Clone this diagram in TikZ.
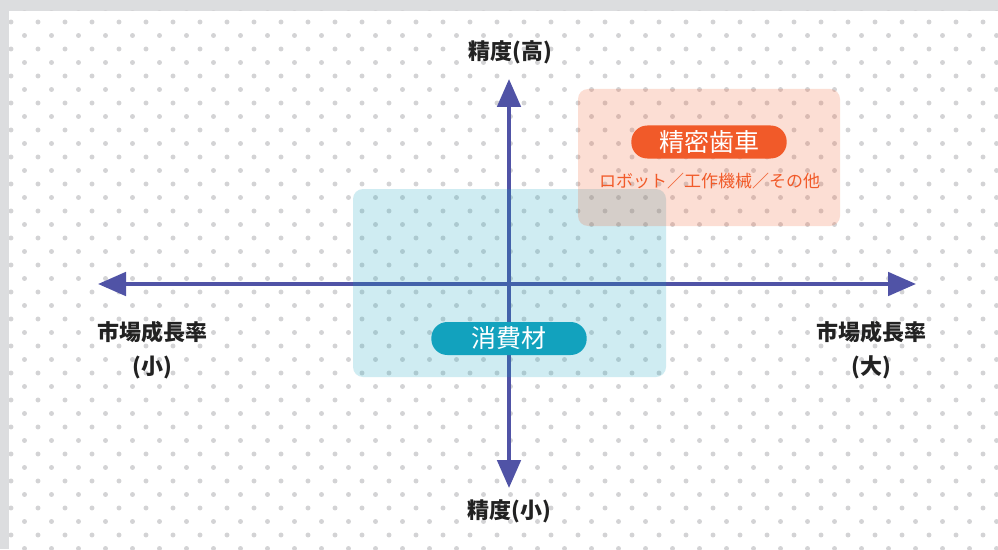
\documentclass[tikz,border=0pt]{standalone}
\usepackage{fontspec}
\setmainfont{Noto Sans CJK JP}
\usetikzlibrary{arrows.meta}
\definecolor{bggray}{HTML}{DCDDDF}
\definecolor{dotgray}{HTML}{D3D3D5}
\definecolor{axisblue}{HTML}{5053A6}
\definecolor{pillorange}{HTML}{F15A29}
\definecolor{pillblue}{HTML}{12A2BE}
\definecolor{labelblack}{HTML}{222222}
\tikzset{
  pill/.style={fill=#1, rounded corners=12pt, minimum width=116.5pt, minimum height=24.75pt,
    inner sep=0pt, text=white, font=\fontsize{18.75}{20}\selectfont},
  zonebox/.style={fill=#1, fill opacity=0.2, rounded corners=7.5pt},
  axisline/.style={draw=axisblue, line width=3pt,
    -{Triangle[length=21pt,width=17.5pt]}},
  axislabel/.style={text=labelblack, font=\fontsize{16.5}{25.5}\selectfont\bfseries, align=center, inner sep=0pt},
  sublabel/.style={text=pillorange, font=\fontsize{12.75}{14}\selectfont, inner sep=0pt},
}
\begin{document}
\begin{tikzpicture}[x=0.75pt,y=-0.75pt]
\useasboundingbox (0,0) rectangle (998,549);
\fill[bggray] (0,0) rectangle (998,549);
\fill[white] (9,11) rectangle (998,549);
\begin{scope}
  \clip (9,11) rectangle (998,549);
  \foreach \r in {0,...,40}{
    \pgfmathsetmacro{\yy}{8.5+13.5*\r}
    \pgfmathsetmacro{\xs}{isodd(\r) ? 11 : 24.5}
    \foreach \m in {0,...,37}{
      \fill[dotgray] ({\xs+27*\m},\yy) circle[radius=1.85pt];
    }
  }
\end{scope}
% axes
\coordinate (c) at (509,284);
\coordinate (xl) at (98,284);
\coordinate (xr) at (916,284);
\coordinate (yt) at (509,79);
\coordinate (yb) at (509,488);
\draw[axisline] (c) -- (xl);
\draw[axisline] (c) -- (xr);
\draw[axisline] (c) -- (yt);
\draw[axisline] (c) -- (yb);
% zones
\path[zonebox=pillblue] (353,189) rectangle (666,377);
\path[zonebox=pillorange] (578,89) rectangle (840,226);
% pills
\node[pill=pillorange] (gear) at (709,142) {精密歯車};
\node[sublabel] (gearsub) at (709.5,181) {ロボット／工作機械／その他};
\node[pill=pillblue] (cons) at (509,338.5) {消費材};
% axis labels
\node[axislabel] (top) at (510,52) {精度(高)};
\node[axislabel] (bottom) at (509.5,511) {精度(小)};
\node[axislabel] (left) at (152,350) {市場成長率\\(小)};
\node[axislabel] (right) at (871,350) {市場成長率\\(大)};
\end{tikzpicture}
\end{document}
